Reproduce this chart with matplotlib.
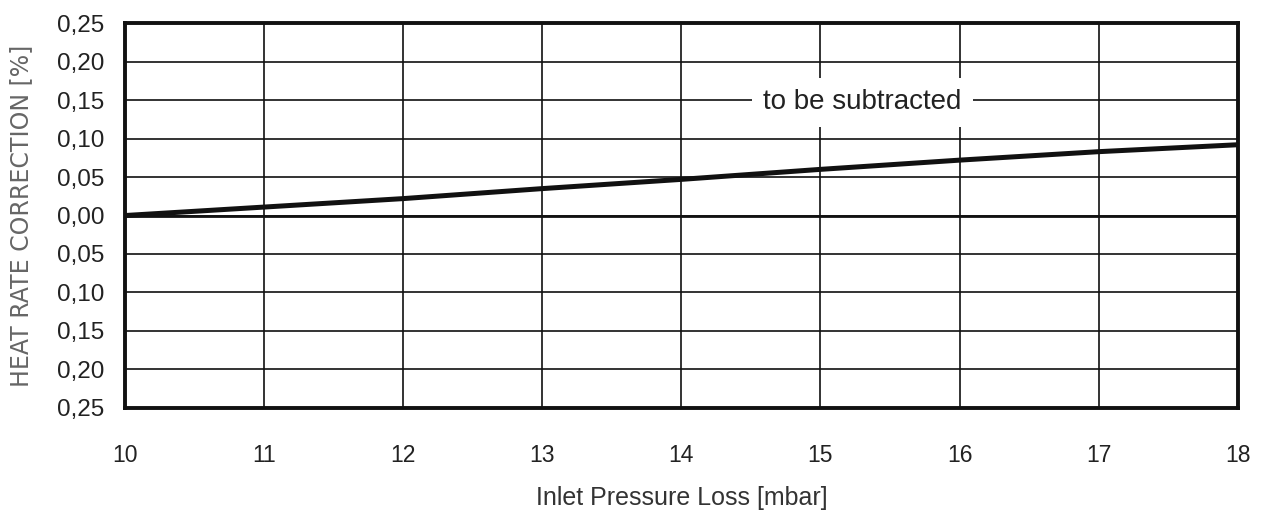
import matplotlib.pyplot as plt

pressure_loss = [10, 11, 12, 13, 14, 15, 16, 17, 18]
correction = [0.0, 0.011, 0.022, 0.035, 0.047, 0.060, 0.072, 0.083, 0.092]

y_ticks = [0.25, 0.20, 0.15, 0.10, 0.05, 0.00, -0.05, -0.10, -0.15, -0.20, -0.25]
y_labels = ['0,25', '0,20', '0,15', '0,10', '0,05', '0,00', '0,05', '0,10', '0,15', '0,20', '0,25']
x_ticks = [10, 11, 12, 13, 14, 15, 16, 17, 18]

plt.rcParams['font.family'] = ['Liberation Sans', 'DejaVu Sans']

fig = plt.figure(figsize=(12.63, 5.15), dpi=100)
ax = fig.add_axes([0.099, 0.208, 0.881, 0.747])

ax.set_xlim(10, 18)
ax.set_ylim(-0.25, 0.25)
ax.set_xticks(x_ticks)
ax.set_xticklabels([str(v) for v in x_ticks])
ax.set_yticks(y_ticks)
ax.set_yticklabels(y_labels)
ax.tick_params(length=0, labelsize=16.5, labelcolor='#222222')
ax.tick_params(axis='x', pad=26)
ax.tick_params(axis='y', pad=15, labelsize=17.5)

ax.grid(True, color='#111111', linewidth=1.2)
ax.axhline(0, color='#111111', linewidth=2.0, zorder=2)
for s in ax.spines.values():
    s.set_linewidth(2.8)
    s.set_color('#111111')

ax.plot(pressure_loss, correction, color='#111111', linewidth=3.6, zorder=3)

ax.text(15.3, 0.147, 'to be subtracted', fontsize=20, color='#222222',
        ha='center', va='center', zorder=4,
        bbox=dict(facecolor='white', edgecolor='none', pad=8))

ax.set_xlabel('Inlet Pressure Loss [mbar]', fontsize=18, color='#333333', labelpad=14)
ax.set_ylabel('HEAT RATE CORRECTION [%]', fontsize=17, color='#666666',
              labelpad=17, family='DejaVu Sans')

fig.savefig('out.png', dpi=100)
